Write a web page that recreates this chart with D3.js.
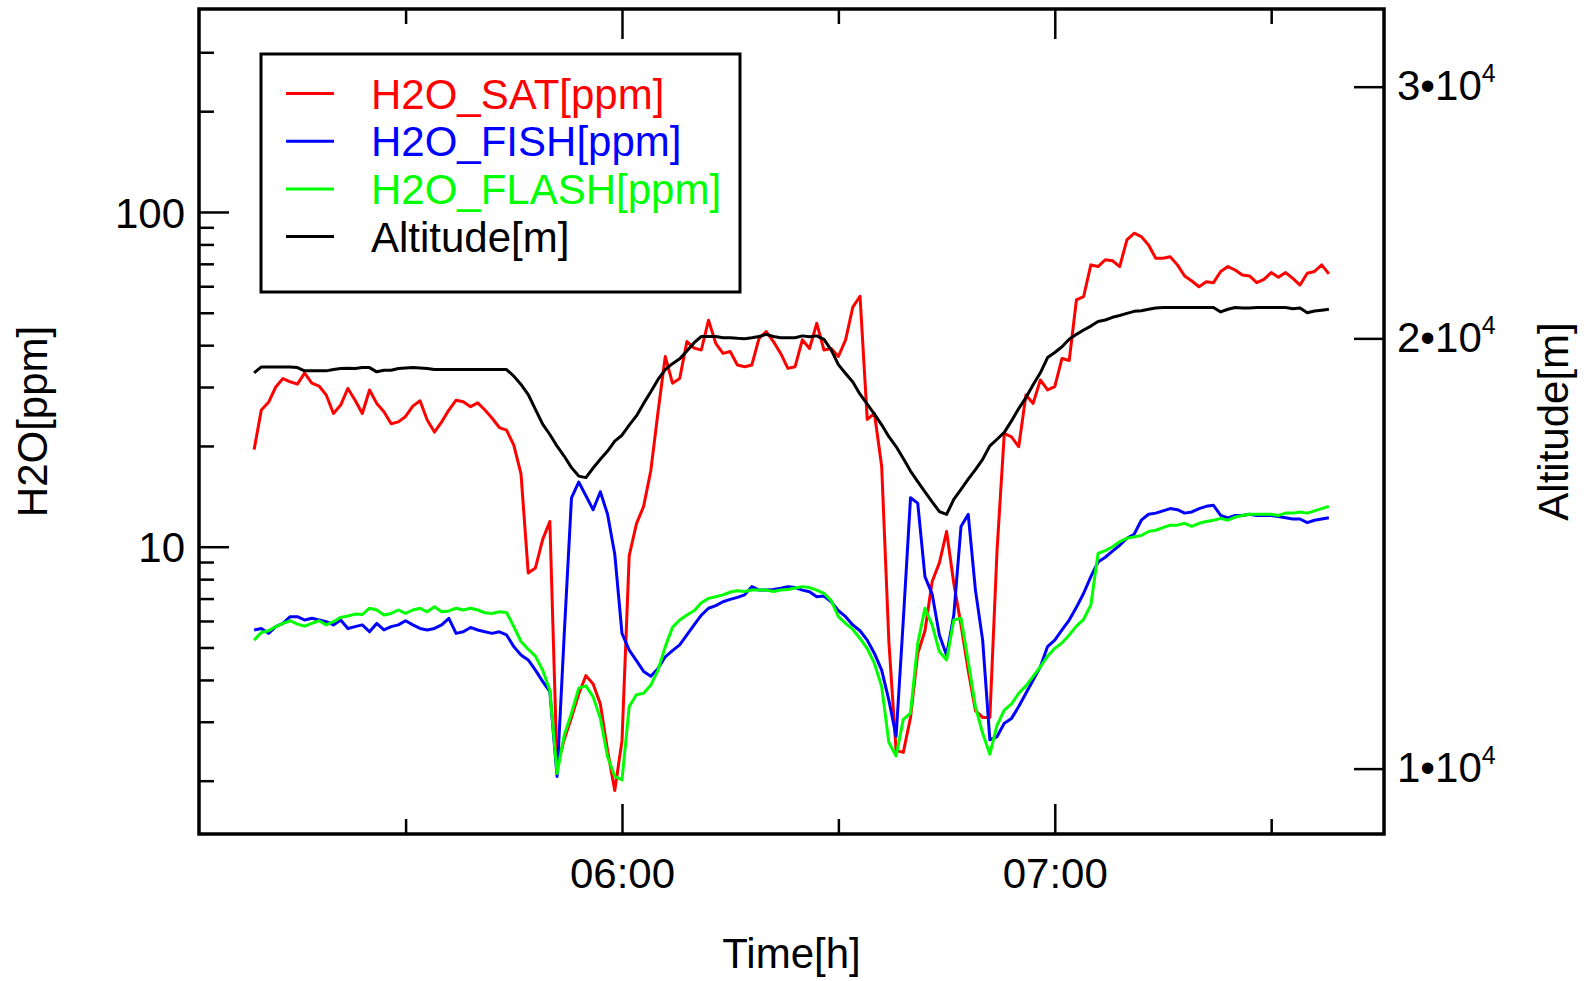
<!DOCTYPE html>
<html lang="en">
<head>
<meta charset="UTF-8">
<title>H2O and altitude</title>
<script src="https://d3js.org/d3.v7.min.js"></script>
<style>
    body { margin: 0; background: #fff; }
    text { font-family: "Liberation Sans", Arial, Helvetica, sans-serif; }
</style>
</head>
<body>
<div id="plot"></div>
<script>
    // sample times, minutes after 05:00
    let minutes = [
        9, 10, 11, 12, 13, 14, 15, 16, 17, 18,
        19, 20, 21, 22, 23, 24, 25, 26, 27, 28,
        29, 30, 31, 32, 33, 34, 35, 36, 37, 38,
        39, 40, 41, 42, 43, 44, 45, 46, 47, 48,
        49, 50, 51, 52, 53, 54, 55, 56, 57, 58,
        59, 60, 61, 62, 63, 64, 65, 66, 67, 68,
        69, 70, 71, 72, 73, 74, 75, 76, 77, 78,
        79, 80, 81, 82, 83, 84, 85, 86, 87, 88,
        89, 90, 91, 92, 93, 94, 95, 96, 97, 98,
        99, 100, 101, 102, 103, 104, 105, 106, 107, 108,
        109, 110, 111, 112, 113, 114, 115, 116, 117, 118,
        119, 120, 121, 122, 123, 124, 125, 126, 127, 128,
        129, 130, 131, 132, 133, 134, 135, 136, 137, 138,
        139, 140, 141, 142, 143, 144, 145, 146, 147, 148,
        149, 150, 151, 152, 153, 154, 155, 156, 157, 158
    ];

    let h2oSat = [
        19.5, 25.6, 27.0, 30.0, 31.8, 31.1, 30.6, 33.0, 30.8, 30.2,
        28.4, 25.0, 26.5, 29.7, 27.4, 25.0, 29.4, 26.8, 25.3, 23.3,
        23.6, 24.5, 26.3, 27.3, 23.9, 22.0, 23.6, 25.6, 27.4, 27.1,
        26.2, 26.9, 25.6, 24.2, 22.7, 22.3, 20.1, 16.5, 8.35, 8.64,
        10.5, 11.9, 2.2, 2.66, 3.09, 3.63, 4.12, 3.89, 3.39, 2.46,
        1.87, 2.63, 9.4, 11.7, 13.2, 16.9, 25.3, 37.0, 30.8, 31.8,
        41.0, 39.2, 38.7, 47.5, 40.5, 37.8, 38.3, 34.9, 34.5, 34.9,
        41.9, 43.9, 41.0, 37.8, 34.1, 34.5, 41.5, 39.1, 46.5, 38.7,
        39.1, 37.0, 41.5, 52.0, 56.0, 24.0, 25.0, 17.4, 5.2, 2.46,
        2.43, 3.09, 4.80, 5.6, 7.87, 8.95, 11.1, 7.78, 5.84, 4.27,
        3.24, 3.09, 3.09, 9.8, 21.8, 21.3, 19.9, 28.4, 26.8, 31.5,
        29.4, 30.1, 36.5, 36.0, 54.6, 55.9, 69.5, 68.7, 72.0, 71.5,
        68.7, 82.5, 86.4, 84.4, 79.7, 72.7, 72.7, 73.5, 69.5, 64.4,
        62.2, 59.8, 61.9, 61.5, 66.4, 68.7, 67.1, 64.8, 64.4, 61.5,
        62.9, 65.9, 63.8, 65.9, 63.3, 60.5, 65.6, 66.4, 69.5, 65.3
    ];

    let h2oFish = [
        5.64, 5.70, 5.51, 5.77, 5.90, 6.18, 6.18, 6.04, 6.11, 6.04,
        5.97, 5.84, 6.04, 5.70, 5.77, 5.84, 5.57, 5.90, 5.64, 5.77,
        5.84, 6.01, 5.84, 5.70, 5.64, 5.70, 5.84, 6.11, 5.51, 5.57,
        5.74, 5.64, 5.57, 5.51, 5.57, 5.45, 5.03, 4.75, 4.59, 4.28,
        3.96, 3.69, 2.06, 5.51, 14.0, 15.6, 14.2, 12.9, 14.6, 12.5,
        9.5, 5.51, 4.91, 4.57, 4.24, 4.10, 4.33, 4.69, 4.89, 5.09,
        5.45, 5.84, 6.25, 6.55, 6.67, 6.85, 6.96, 7.06, 7.18, 7.60,
        7.42, 7.42, 7.45, 7.52, 7.60, 7.55, 7.42, 7.34, 7.09, 7.12,
        6.85, 6.44, 6.18, 5.84, 5.61, 5.26, 4.80, 4.28, 3.48, 2.71,
        6.04, 14.0, 13.5, 8.14, 7.22, 5.45, 4.74, 6.25, 11.5, 12.5,
        7.42, 5.26, 2.65, 2.71, 2.97, 3.07, 3.33, 3.65, 4.00, 4.38,
        5.03, 5.26, 5.64, 6.04, 6.59, 7.26, 8.14, 9.0, 9.3, 9.7,
        10.1, 10.6, 10.9, 12.0, 12.5, 12.6, 12.8, 13.0, 12.9, 12.6,
        12.7, 13.0, 13.2, 13.3, 12.4, 12.2, 12.4, 12.4, 12.5, 12.4,
        12.4, 12.4, 12.3, 12.2, 12.1, 12.1, 11.8, 12.0, 12.1, 12.2
    ];

    let h2oFlash = [
        5.26, 5.54, 5.61, 5.77, 5.90, 6.01, 5.87, 5.79, 5.90, 6.01,
        5.84, 5.97, 6.15, 6.21, 6.29, 6.27, 6.55, 6.47, 6.25, 6.32,
        6.47, 6.32, 6.47, 6.55, 6.39, 6.62, 6.39, 6.43, 6.55, 6.47,
        6.55, 6.47, 6.35, 6.32, 6.39, 6.36, 5.77, 5.21, 4.94, 4.71,
        4.28, 3.72, 2.10, 2.74, 3.18, 3.78, 3.84, 3.56, 3.07, 2.36,
        2.06, 2.01, 3.33, 3.61, 3.65, 3.86, 4.28, 5.03, 5.74, 6.04,
        6.25, 6.44, 6.80, 7.01, 7.09, 7.18, 7.32, 7.39, 7.35, 7.42,
        7.42, 7.42, 7.35, 7.42, 7.45, 7.53, 7.60, 7.55, 7.42, 7.26,
        6.90, 6.18, 5.90, 5.66, 5.32, 4.96, 4.48, 3.82, 2.60, 2.37,
        3.05, 3.18, 5.14, 6.55, 5.84, 4.86, 4.59, 6.04, 6.11, 4.54,
        3.33, 2.77, 2.40, 2.93, 3.25, 3.39, 3.65, 3.84, 4.10, 4.38,
        4.71, 4.97, 5.16, 5.45, 5.79, 6.07, 6.70, 9.55, 9.73, 10.0,
        10.35, 10.6, 10.7, 10.8, 11.1, 11.2, 11.4, 11.6, 11.6, 11.75,
        11.5, 11.75, 11.9, 12.0, 12.15, 12.0, 12.25, 12.4, 12.5, 12.5,
        12.5, 12.5, 12.4, 12.6, 12.6, 12.7, 12.6, 12.8, 13.0, 13.2
    ];

    let altitude = [
        18920, 19100, 19100, 19100, 19100, 19100, 19080, 18980, 18980, 18980,
        18980, 19020, 19050, 19060, 19050, 19080, 19080, 18950, 19000, 19000,
        19050, 19070, 19080, 19070, 19050, 19020, 19020, 19020, 19020, 19020,
        19020, 19020, 19020, 19020, 19020, 19020, 18820, 18570, 18270, 17840,
        17420, 17130, 16810, 16540, 16240, 16020, 15980, 16230, 16460, 16680,
        16950, 17110, 17390, 17650, 18010, 18350, 18720, 19020, 19200, 19350,
        19600, 19860, 20060, 20060, 20060, 20020, 20020, 20000, 19990, 20020,
        20060, 20130, 20060, 20020, 20020, 20020, 20080, 20050, 20080, 19970,
        19630, 19170, 18900, 18640, 18280, 17990, 17700, 17400, 17070, 16800,
        16480, 16150, 15880, 15620, 15370, 15130, 15060, 15430, 15680, 15940,
        16190, 16460, 16820, 17000, 17190, 17510, 17860, 18180, 18560, 18920,
        19390, 19550, 19730, 19970, 20130, 20270, 20400, 20550, 20600, 20690,
        20750, 20820, 20890, 20910, 20960, 21000, 21020, 21020, 21020, 21020,
        21020, 21020, 21020, 21020, 20870, 20960, 21020, 21000, 21000, 21020,
        21020, 21020, 21020, 21020, 20980, 21000, 20840, 20900, 20930, 20960
    ];

    let seriesNames = ['H2O_SAT[ppm]', 'H2O_FISH[ppm]', 'H2O_FLASH[ppm]', 'Altitude[m]'];
    let seriesColors = ['#ff0000', '#0000ff', '#00ff00', '#000000'];
    let ppmMajor = [10, 100];
    let ppmMinor = [2, 3, 4, 5, 6, 7, 8, 9, 20, 30, 40, 50, 60, 70, 80, 90, 200, 300];
    let altTicks = [10000, 20000, 30000];
    let timeMajor = ['06:00', '07:00'];
    let timeMinor = ['05:30', '06:30', '07:30'];

    function translate(x, y){
        return 'translate(' + x + ', ' + y + ')';
    }

    let base = new Date(1900, 0, 1, 5, 0, 0);
    function toTime(m){
        return new Date(base.getTime() + m * 60000);
    }
    let parseClock = d3.timeParse('%H:%M');

    let svgWidth = 1593;
    let svgHeight = 981;
    let margin = {top: 9, right: 209, bottom: 147, left: 199};
    let width = svgWidth - margin.left - margin.right;
    let height = svgHeight - margin.top - margin.bottom;

    let svg = d3.select('#plot')
                .append('svg')
                    .attr('width', svgWidth)
                    .attr('height', svgHeight)
                    .append('g')
                        .attr('transform', translate(margin.left, margin.top));

    let x = d3.scaleTime()
                .domain([toTime(1.36), toTime(165.64)])
                .range([0, width]);
    let y = d3.scaleLog()
                .domain([1.386, 404])
                .range([height, 0]);
    let yAlt = d3.scaleLog()
                .domain([9000, 34000])
                .range([height, 0]);

    let times = minutes.map(toTime);

    function lineFor(values, scale){
        return d3.line()
                 .x((d, i) => x(times[i]))
                 .y(d => scale(d))(values);
    }

    let series = [
        {values: h2oSat, scale: y},
        {values: h2oFish, scale: y},
        {values: h2oFlash, scale: y},
        {values: altitude, scale: yAlt}
    ];

    svg.selectAll('path.series')
        .data(series)
        .enter()
        .append('path')
        .attr('class', 'series')
        .attr('d', d => lineFor(d.values, d.scale))
        .attr('fill', 'none')
        .attr('stroke', (d, i) => seriesColors[i])
        .attr('stroke-width', 3)
        .attr('stroke-linejoin', 'round');

    function styleAxis(g){
        g.select('.domain').remove();
        g.selectAll('.tick line').attr('stroke', '#000').attr('stroke-width', 2.5);
        g.selectAll('.tick text').attr('fill', '#000').attr('font-size', 42)
            .attr('font-family', '"Liberation Sans", Arial, Helvetica, sans-serif');
    }

    // time axes, bottom with labels, top ticks only
    let timeFmt = d3.timeFormat('%H:%M');
    svg.append('g')
        .attr('transform', translate(0, height))
        .call(d3.axisBottom(x).tickValues(timeMajor.map(parseClock)).tickFormat(timeFmt)
                .tickSize(-30).tickSizeOuter(0).tickPadding(24))
        .call(styleAxis);
    svg.append('g')
        .attr('transform', translate(0, height))
        .call(d3.axisBottom(x).tickValues(timeMinor.map(parseClock)).tickFormat('')
                .tickSize(-15).tickSizeOuter(0))
        .call(styleAxis);
    svg.append('g')
        .call(d3.axisTop(x).tickValues(timeMajor.map(parseClock)).tickFormat('')
                .tickSize(-30).tickSizeOuter(0))
        .call(styleAxis);
    svg.append('g')
        .call(d3.axisTop(x).tickValues(timeMinor.map(parseClock)).tickFormat('')
                .tickSize(-15).tickSizeOuter(0))
        .call(styleAxis);

    // ppm axis
    svg.append('g')
        .call(d3.axisLeft(y).tickValues(ppmMajor).tickFormat(d3.format('d'))
                .tickSize(-30).tickSizeOuter(0).tickPadding(14))
        .call(styleAxis)
        .call(g => g.selectAll('.tick text').attr('dy', '0.36em'));
    svg.append('g')
        .call(d3.axisLeft(y).tickValues(ppmMinor).tickFormat('')
                .tickSize(-15).tickSizeOuter(0))
        .call(styleAxis);

    // altitude axis
    svg.append('g')
        .attr('transform', translate(width, 0))
        .call(d3.axisRight(yAlt).tickValues(altTicks)
                .tickSize(-30).tickSizeOuter(0).tickPadding(13))
        .call(styleAxis)
        .call(g => g.selectAll('.tick text').each(function(d){
            let t = d3.select(this).text(null).attr('dy', '0.31em');
            t.append('tspan').text((d / 10000) + '\u202210');
            t.append('tspan').attr('dy', -18).attr('font-size', 25).text('4');
        }));

    svg.append('rect')
        .attr('width', width)
        .attr('height', height)
        .attr('fill', 'none')
        .attr('stroke', '#000')
        .attr('stroke-width', 3.5);

    // axis titles
    svg.append('text')
        .attr('x', width / 2)
        .attr('y', 959)
        .attr('text-anchor', 'middle')
        .attr('font-size', 42)
        .text('Time[h]');
    svg.append('text')
        .attr('transform', translate(47 - margin.left, 421.5 - margin.top) + ' rotate(-90)')
        .attr('text-anchor', 'middle')
        .attr('font-size', 42)
        .text('H2O[ppm]');
    svg.append('text')
        .attr('transform', translate(1568 - margin.left, 421.5 - margin.top) + ' rotate(-90)')
        .attr('text-anchor', 'middle')
        .attr('font-size', 42)
        .text('Altitude[m]');

    // legend
    let legend = svg.append('g')
        .attr('transform', translate(261 - margin.left, 54 - margin.top));
    legend.append('rect')
        .attr('width', 479)
        .attr('height', 238)
        .attr('fill', '#fff')
        .attr('stroke', '#000')
        .attr('stroke-width', 3);
    let items = legend.selectAll('g.item')
        .data(seriesNames)
        .enter()
        .append('g')
        .attr('class', 'item')
        .attr('transform', (d, i) => translate(0, 39.5 + i * 47.7));
    items.append('line')
        .attr('x1', 25).attr('x2', 73)
        .attr('stroke', (d, i) => seriesColors[i])
        .attr('stroke-width', 3);
    items.append('text')
        .attr('x', 110)
        .attr('y', 15)
        .attr('font-size', 42)
        .attr('fill', (d, i) => seriesColors[i])
        .text(d => d);
</script>
</body>
</html>
